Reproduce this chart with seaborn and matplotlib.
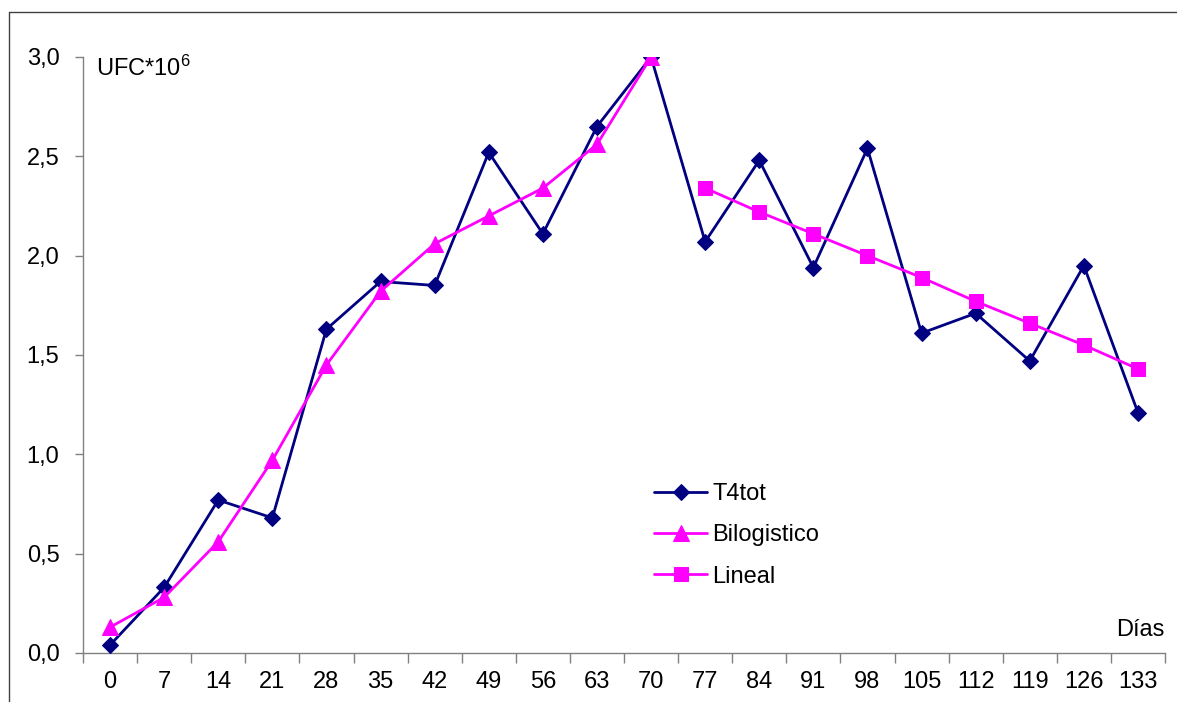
import numpy as np
import pandas as pd
import matplotlib
matplotlib.use("Agg")
import matplotlib.pyplot as plt
from matplotlib.lines import Line2D
import seaborn as sns

# Sampling days (categorical x axis)
days = [0, 7, 14, 21, 28, 35, 42, 49, 56, 63, 70,
        77, 84, 91, 98, 105, 112, 119, 126, 133]

# Measured counts, UFC*10^6
t4tot = [0.04, 0.33, 0.77, 0.68, 1.63, 1.87, 1.85, 2.52, 2.11, 2.65, 3.00,
         2.07, 2.48, 1.94, 2.54, 1.61, 1.71, 1.47, 1.95, 1.21]

# Bilogistic fit, growth phase (days 0-70)
bilog_days = [0, 7, 14, 21, 28, 35, 42, 49, 56, 63, 70]
bilogistico = [0.13, 0.28, 0.56, 0.97, 1.45, 1.82, 2.06, 2.20, 2.34, 2.56, 3.00]

# Linear fit, decline phase (days 77-133)
lineal_days = [77, 84, 91, 98, 105, 112, 119, 126, 133]
lineal = [2.34, 2.22, 2.11, 2.00, 1.89, 1.77, 1.66, 1.55, 1.43]

y_ticks = [0.0, 0.5, 1.0, 1.5, 2.0, 2.5, 3.0]

NAVY = "#000080"
MAGENTA = "#FF00FF"
GRID = "#808080"

sns.set_style("white")
plt.rcParams["font.family"] = ["Liberation Sans", "DejaVu Sans"]
plt.rcParams["mathtext.default"] = "regular"
plt.rcParams["text.color"] = "black"
plt.rcParams["xtick.color"] = "black"
plt.rcParams["ytick.color"] = "black"
FS = 17

pos = {d: i for i, d in enumerate(days)}
df_t4 = pd.DataFrame({"x": [pos[d] for d in days], "y": t4tot})
df_bi = pd.DataFrame({"x": [pos[d] for d in bilog_days], "y": bilogistico})
df_li = pd.DataFrame({"x": [pos[d] for d in lineal_days], "y": lineal})

W, H = 1177, 702
fig = plt.figure(figsize=(W / 100, H / 100), dpi=100)
ax = fig.add_axes([83 / W, (H - 653) / H, 1082 / W, 596 / H])

sns.lineplot(data=df_t4, x="x", y="y", ax=ax, color=NAVY, lw=2,
             marker="D", markersize=8.5, markeredgecolor=NAVY,
             markerfacecolor=NAVY, label="T4tot", zorder=3)
sns.lineplot(data=df_bi, x="x", y="y", ax=ax, color=MAGENTA, lw=2,
             marker="^", markersize=11.5, markeredgecolor=MAGENTA,
             markerfacecolor=MAGENTA, label="Bilogistico", zorder=4)
sns.lineplot(data=df_li, x="x", y="y", ax=ax, color=MAGENTA, lw=2,
             marker="s", markersize=10.5, markeredgecolor=MAGENTA,
             markerfacecolor=MAGENTA, label="Lineal", zorder=4)

ax.set_xlim(-0.5, len(days) - 0.5)
ax.set_ylim(0, 3.0)

# y axis
ax.set_yticks(y_ticks)
ax.set_yticklabels([f"{v:.1f}".replace(".", ",") for v in y_ticks])
ax.tick_params(axis="y", left=True, direction="out", length=6, width=1,
               color=GRID, pad=11, labelsize=FS, labelcolor="black")

# x axis: tick marks between categories, labels centred on categories
ax.set_xticks(np.arange(-0.5, len(days), 1.0))
ax.set_xticklabels([])
ax.set_xticks(np.arange(len(days)), minor=True)
ax.set_xticklabels([str(d) for d in days], minor=True)
ax.tick_params(axis="x", which="major", bottom=True, direction="out",
               length=7, width=1, color=GRID)
ax.tick_params(axis="x", which="minor", bottom=True, length=0, pad=13,
               labelsize=FS, labelcolor="black")

for side in ("top", "right"):
    ax.spines[side].set_visible(False)
for side in ("left", "bottom"):
    ax.spines[side].set_color(GRID)
    ax.spines[side].set_linewidth(1)

ax.set_xlabel("")
ax.set_ylabel("")

ax.text(13 / 1082, (653 - 76) / 596, "UFC*10$^{6}$", transform=ax.transAxes,
        fontsize=FS, ha="left", va="baseline", color="black")
ax.text(1.0, (653 - 636) / 596, "Días", transform=ax.transAxes,
        fontsize=FS, ha="right", va="baseline", color="black")

leg = ax.legend(loc="upper left", bbox_to_anchor=(654 / W, 1 - 483 / H),
                bbox_transform=fig.transFigure, frameon=False, fontsize=FS,
                borderpad=0, borderaxespad=0, handlelength=2.25,
                handletextpad=0.22, labelspacing=0.82)
for t in leg.get_texts():
    t.set_color("black")

# outer chart border (top and left edges)
fig.add_artist(Line2D([9 / W, 9 / W], [0, 1 - 12 / H], transform=fig.transFigure,
                      color="#404040", lw=1))
fig.add_artist(Line2D([9 / W, 1], [1 - 12 / H, 1 - 12 / H], transform=fig.transFigure,
                      color="#404040", lw=1))

fig.savefig("out.png", dpi=100)
